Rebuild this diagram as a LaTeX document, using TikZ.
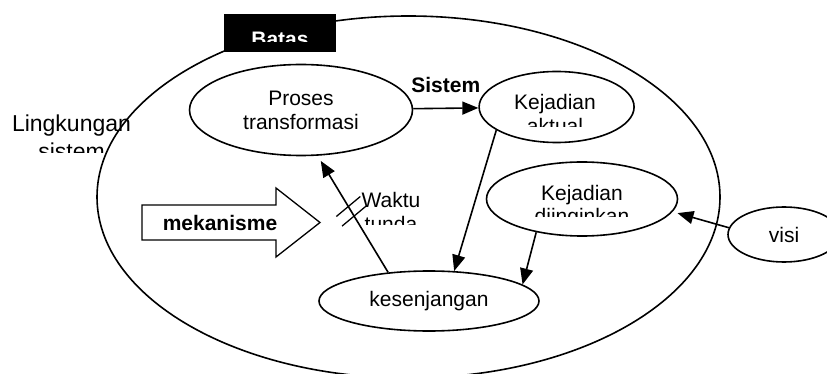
\documentclass[tikz,border=0pt]{standalone}
\usepackage{fontspec}
\setmainfont{Liberation Sans}
\usepackage{tikz}
\usetikzlibrary{arrows.meta,shapes,positioning}

\begin{document}
\begin{tikzpicture}[
        x=1pt, y=-1pt,
        line width=1.6pt,
        every node/.style={font=\fontsize{21}{24}\selectfont, align=center},
        bubble/.style={draw, ellipse, inner sep=0pt},
        boldtext/.style={font=\fontsize{21}{24}\selectfont\bfseries},
        link/.style={-{Triangle[length=16pt,width=13pt]}}
    ]
    \clip (0,0) rectangle (827,374);

    % System boundary and its tag
    \draw (408.5,197) ellipse [x radius=311.5, y radius=181];
    \node[fill=black, minimum width=112pt, minimum height=38pt, inner sep=0pt] (batas) at (280,33) {};
    \begin{scope}
      \clip (224,14) rectangle (336,42);
      \node[boldtext, text=white, anchor=base] (batasText) at (280,47) {Batas};
    \end{scope}

    % Nodes
    \node[bubble, minimum width=223pt, minimum height=91pt] (proses) at (301,110) {Proses\\transformasi};
    \node[bubble, minimum width=155pt, minimum height=71pt, right=65pt of proses, yshift=3pt] (aktual) {};
    \node[bubble, minimum width=191pt, minimum height=74pt] (diing) at (582,199) {};
    \node[bubble, minimum width=220pt, minimum height=60pt] (kes) at (429,301) {kesenjangan};
    \node[bubble, minimum width=112pt, minimum height=55pt] (visi) at (784,234.5) {visi};

    % text that runs past the bottom of its box (base = last line)
    \begin{scope}
      \clip (480,80) rectangle (630,127);
      \node[anchor=base] (aktualText) at (555,134) {Kejadian\\aktual};
    \end{scope}
    \begin{scope}
      \clip (490,170) rectangle (670,217);
      \node[anchor=base] (diingText) at (582,224) {Kejadian\\diinginkan};
    \end{scope}
    \begin{scope}
      \clip (0,100) rectangle (160,153);
      \node[font=\fontsize{23}{28}\selectfont, anchor=base] (lingk) at (71.5,160) {Lingkungan\\sistem};
    \end{scope}
    \begin{scope}
      \clip (355,180) rectangle (430,225);
      \node[anchor=base] (tunda) at (391,231) {Waktu\\tunda};
    \end{scope}

    % mechanism block arrow
    \draw[line width=1.3pt] (142,205) -- (276,205) -- (276,188) -- (320,222.5)
        -- (276,257) -- (276,240) -- (142,240) -- cycle;
    \node[boldtext, anchor=base] (mek) at (220,230) {mekanisme};

    % Connectors
    \draw[link] (proses) -- (aktual) node[midway, above=15pt, inner sep=0pt, boldtext] (sistem) {Sistem};
    \draw[link] (aktual.201) -- (kes.50);
    \draw[link] (diing.216) -- (kes.10);
    \draw[link, shorten >=5pt] (visi.173) -- (diing.352);
    \draw[link, shorten >=6pt] (kes.145) -- (proses.290)
        coordinate[pos=0.565] (h1) coordinate[pos=0.483] (h2);
    \draw[line width=1.3pt] (h1) ++(-12,10) -- ++(24,-20);
    \draw[line width=1.3pt] (h2) ++(-12,10) -- ++(24,-20);

\end{tikzpicture}
\end{document}
